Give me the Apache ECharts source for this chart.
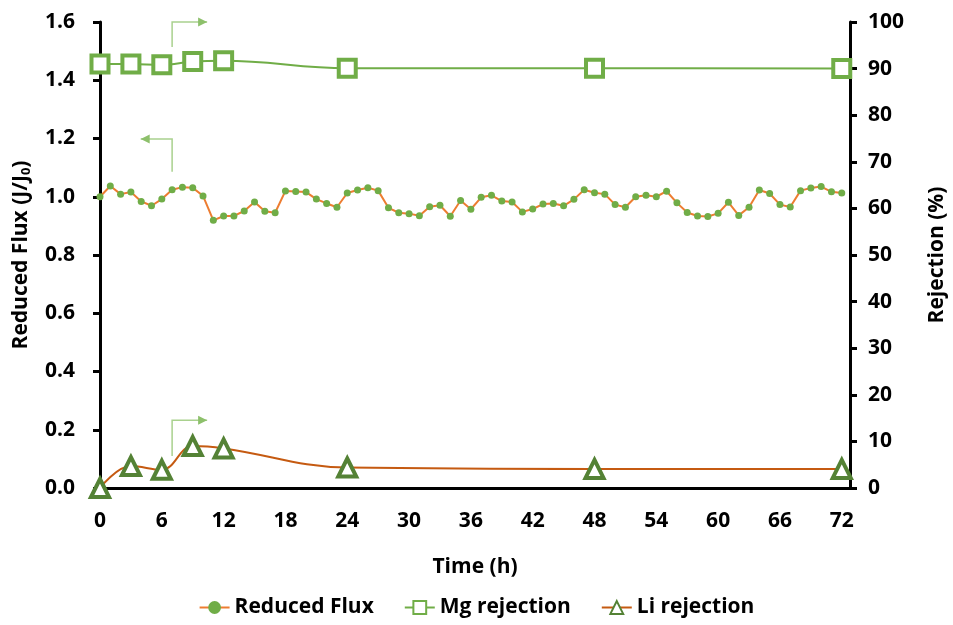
<!DOCTYPE html>
<html><head><meta charset="utf-8">
<script src="https://cdn.jsdelivr.net/npm/echarts@6/dist/echarts.min.js"></script>
<style>html,body{margin:0;padding:0;background:#fff}#c{width:953px;height:625px}</style>
</head><body><div id="c"></div>
<script>
const fluxHours = Array.from({length:73},(_, i)=>i);
const fluxValues = [1.000,1.037,1.009,1.016,0.984,0.969,0.992,1.024,1.033,1.031,1.003,0.919,0.934,0.934,0.951,0.982,0.950,0.945,1.020,1.018,1.016,0.992,0.977,0.964,1.013,
1.023,1.031,1.021,0.962,0.945,0.942,0.935,0.966,0.971,0.933,0.987,0.957,0.998,1.005,0.985,0.982,0.948,0.958,0.975,0.977,0.969,0.991,1.024,1.014,
1.009,0.973,0.964,1.000,1.005,1.000,1.019,0.979,0.946,0.934,0.932,0.943,0.981,0.936,0.964,1.023,1.011,0.973,0.965,1.021,1.030,1.035,1.017,1.013];
const rejHours = [0,3,6,9,12,24,48,72];
const mgRejection = [91.0,91.0,90.8,91.5,91.7,90.1,90.1,90.0];
const liRejection = [0,4.7,3.9,9.0,8.5,4.4,4.1,4.1];
const xTicks = [0,6,12,18,24,30,36,42,48,54,60,66,72];
// annotation arrows in data units: [hours, left-axis value]
const arrows = [
  {pts:[[7,1.514],[7,1.6],[10.4,1.6]]},
  {pts:[[7,1.086],[7,1.198],[3.95,1.198]]},
  {pts:[[7,0.11],[7,0.233],[10.4,0.233]]}
];
const F = '"Open Sans", Lato, sans-serif';
const chart = echarts.init(document.getElementById('c'));
const axisTxt = {color:'#000', fontFamily:F, fontWeight:'bold', fontSize:21};
chart.setOption({
  animation:false,
  grid:{left:100, right:103, top:22, bottom:137, containLabel:false, outerBoundsMode:'none'},
  legend:{
    bottom:2, left:'center', itemGap:30, itemWidth:30, itemHeight:16,
    textStyle:{color:'#000', fontFamily:F, fontWeight:'bold', fontSize:21},
    data:['Reduced Flux','Mg rejection','Li rejection']
  },
  xAxis:{type:'value', min:0, max:72.8, interval:6,
    name:'Time (h)', nameLocation:'middle', nameGap:69,
    nameTextStyle:{...axisTxt},
    axisLine:{lineStyle:{color:'#000', width:3}}, axisTick:{show:false},
    axisLabel:{...axisTxt, margin:23, formatter:v=>xTicks.includes(v)?String(v):''},
    splitLine:{show:false}},
  yAxis:[
    {type:'value', min:0, max:1.6, interval:0.2, position:'left',
     name:'{a|Reduced Flux (J/J}{s|0}{a|)}', nameLocation:'middle', nameGap:67, nameRotate:90,
     nameTextStyle:{rich:{a:{...axisTxt}, s:{...axisTxt, fontSize:13, verticalAlign:'bottom', padding:[11,0,0,0]}}},
     axisLine:{show:true, lineStyle:{color:'#000', width:3}},
     axisTick:{show:true, length:7, lineStyle:{width:3, color:'#000'}},
     axisLabel:{...axisTxt, margin:25, formatter:v=>v.toFixed(1)},
     splitLine:{show:false}},
    {type:'value', min:0, max:100, interval:10, position:'right',
     name:'Rejection (%)', nameLocation:'middle', nameGap:77, nameRotate:90,
     nameTextStyle:{...axisTxt},
     axisLine:{show:true, lineStyle:{color:'#000', width:3}},
     axisTick:{show:true, length:7, lineStyle:{width:3, color:'#000'}},
     axisLabel:{...axisTxt, margin:18},
     splitLine:{show:false}}
  ],
  series:[
    {name:'Reduced Flux', type:'line', yAxisIndex:0,
     data:fluxHours.map((h,i)=>[h,fluxValues[i]]),
     symbol:'circle', symbolSize:7,
     lineStyle:{color:'#ED7D31', width:2},
     itemStyle:{color:'#70AD47', borderWidth:0}},
    {name:'Mg rejection', type:'line', yAxisIndex:1, smooth:0.4,
     data:rejHours.map((h,i)=>[h,mgRejection[i]]),
     symbol:'rect', symbolSize:17,
     lineStyle:{color:'#70AD47', width:2},
     itemStyle:{color:'#fff', borderColor:'#70AD47', borderWidth:4}},
    {name:'Li rejection', type:'line', yAxisIndex:1, smooth:0.4,
     data:rejHours.map((h,i)=>[h,liRejection[i]]),
     symbol:'triangle', symbolSize:18,
     lineStyle:{color:'#C55A11', width:2},
     itemStyle:{color:'#fff', borderColor:'#548235', borderWidth:4}}
  ]
});
const gfx = [];
arrows.forEach(a=>{
  const p = a.pts.map(d=>chart.convertToPixel({xAxisIndex:0,yAxisIndex:0}, d));
  gfx.push({type:'polyline', shape:{points:p}, style:{stroke:'#A9D18E', lineWidth:1.5, fill:null}, z:5});
  const [x1,y1] = p[1], [x2,y2] = p[2];
  const dir = Math.sign(x2-x1);
  gfx.push({type:'polygon', shape:{points:[[x2,y2],[x2-dir*9,y2-4.5],[x2-dir*9,y2+4.5]]}, style:{fill:'#8DC06B'}, z:5});
});
chart.setOption({graphic:gfx});
</script></body></html>
